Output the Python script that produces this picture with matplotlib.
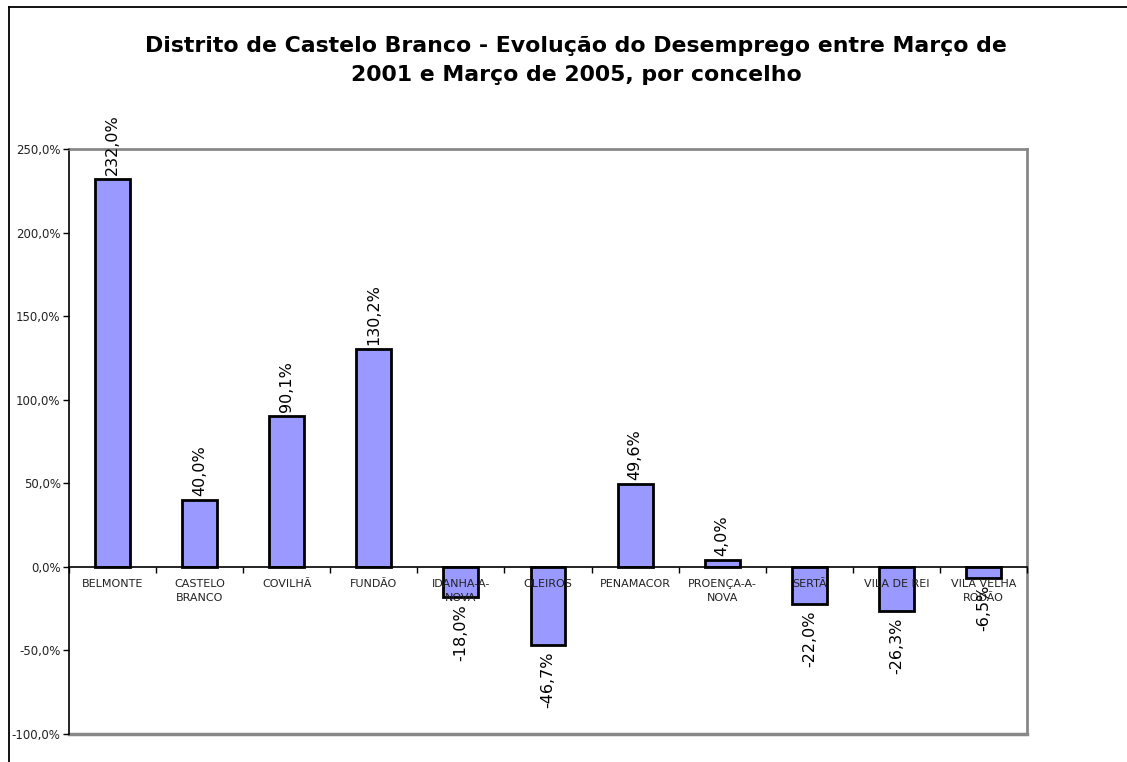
import numpy as np
import matplotlib
matplotlib.use('Agg')
import matplotlib.pyplot as plt
from matplotlib.lines import Line2D

# Data
concelhos = ['BELMONTE', 'CASTELO\nBRANCO', 'COVILHÃ', 'FUNDÃO', 'IDANHA-A-\nNOVA', 'OLEIROS',
             'PENAMACOR', 'PROENÇA-A-\nNOVA', 'SERTÃ', 'VILA DE REI', 'VILA VELHA\nRODÃO']
variacao = [232.0, 40.0, 90.1, 130.2, -18.0, -46.7, 49.6, 4.0, -22.0, -26.3, -6.5]
y_ticks = [-100, -50, 0, 50, 100, 150, 200, 250]

def pct(v):
    return f"{v:.1f}%".replace('.', ',')

fig = plt.figure(figsize=(11.27, 7.62), dpi=100)
ax = fig.add_axes([0.0612, 0.0367, 0.8501, 0.7678])
ax.set_axisbelow(False)  # category names are written over the bars

x = np.arange(len(concelhos))
bars = ax.bar(x, variacao, width=0.4, color='#9999FF', edgecolor='black', linewidth=2, zorder=2)

# value labels, rotated like in Excel
for xi, v in zip(x, variacao):
    if v >= 0:
        ax.annotate(pct(v), (xi, v), xytext=(0, 3), textcoords='offset points',
                    rotation=90, ha='center', va='bottom', fontsize=11.5,
                    family='DejaVu Sans', zorder=4)
    else:
        ax.annotate(pct(v), (xi, v), xytext=(0, -5), textcoords='offset points',
                    rotation=90, ha='center', va='top', fontsize=11.5,
                    family='DejaVu Sans', zorder=4)

ax.set_xlim(-0.5, len(concelhos) - 0.5)
ax.set_ylim(-100, 250)
ax.set_yticks(y_ticks)
ax.set_yticklabels([pct(t) for t in y_ticks], fontsize=8.5, color='#222222')

# category axis sits on the zero line
ax.spines['bottom'].set_position(('data', 0))
ax.spines['bottom'].set_color('black')
ax.spines['bottom'].set_linewidth(1.2)
ax.spines['bottom'].set_zorder(5)
ax.set_xticks(x)
ax.set_xticklabels(concelhos, fontsize=8, color='#222222', linespacing=1.5)
ax.set_xticks(np.arange(len(concelhos) + 1) - 0.5, minor=True)
ax.tick_params(axis='x', which='major', length=0, pad=9)
ax.tick_params(axis='x', which='minor', length=4, width=1, direction='out')
ax.tick_params(axis='y', length=4, width=1, direction='out', pad=2)

ax.spines['left'].set_color('black')
ax.spines['left'].set_linewidth(1.2)
for s in ['top', 'right']:
    ax.spines[s].set_color('#888888')
    ax.spines[s].set_linewidth(2)
# bottom frame of the plot area
ax.axhline(-100, color='#888888', linewidth=2.5, zorder=1, clip_on=False)

fig.text(0.511, 0.921, 'Distrito de Castelo Branco - Evolução do Desemprego entre Março de\n'
         '2001 e Março de 2005, por concelho',
         ha='center', va='center', fontsize=15.8, fontweight='bold',
         family='DejaVu Sans', linespacing=1.55)

# chart area border
fig.add_artist(Line2D([0.008, 1.0], [0.991, 0.991], color='black', linewidth=1.3))
fig.add_artist(Line2D([0.008, 0.008], [0.0, 0.991], color='black', linewidth=1.3))

fig.savefig('out.png', dpi=100)
